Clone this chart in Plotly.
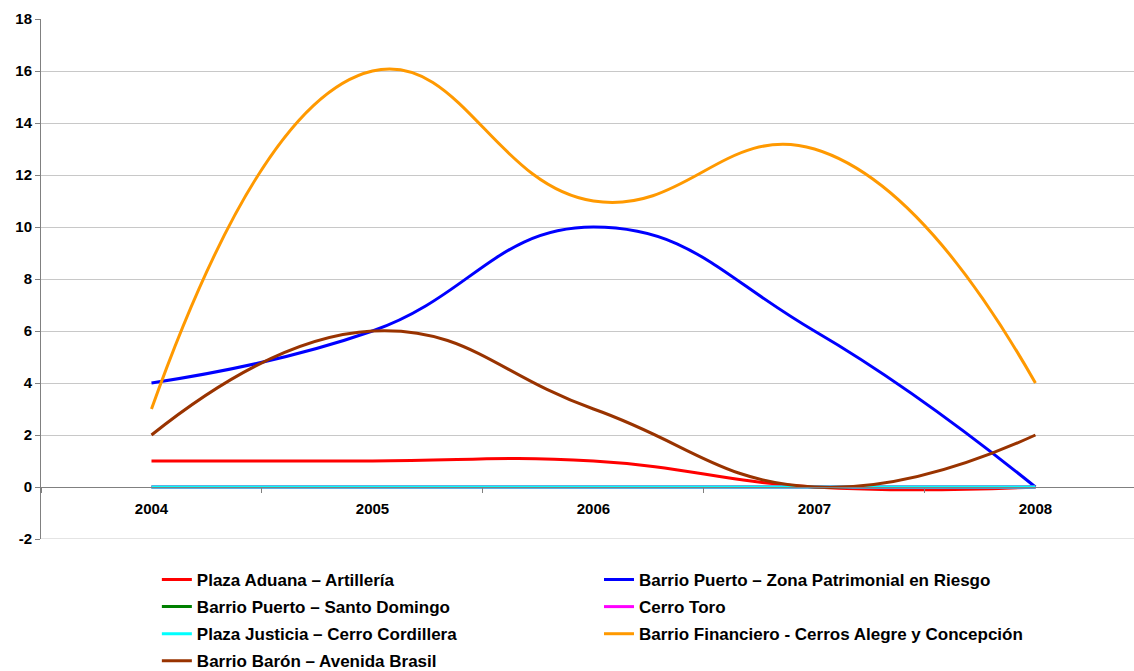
import plotly.graph_objects as go

years = ["2004", "2005", "2006", "2007", "2008"]

plaza_aduana = [1, 1, 1, 0, 0]
puerto_zona = [4, 6, 10, 6, 0]
puerto_santo_domingo = [0, 0, 0, 0, 0]
cerro_toro = [0, 0, 0, 0, 0]
plaza_justicia = [0, 0, 0, 0, 0]
financiero = [3, 16, 11, 13, 4]
baron = [2, 6, 3, 0, 2]

y_ticks = [-2, 0, 2, 4, 6, 8, 10, 12, 14, 16, 18]
y_tick_text = ["-2", "0", "2", "4", "6", "8", "10", "12", "14", "16", "18"]

series = [
    ("Plaza Aduana – Artillería", plaza_aduana, "#FF0000", "legend"),
    ("Barrio Puerto – Zona Patrimonial en Riesgo", puerto_zona, "#0000FF", "legend2"),
    ("Barrio Puerto – Santo Domingo", puerto_santo_domingo, "#008000", "legend"),
    ("Cerro Toro", cerro_toro, "#FF00FF", "legend2"),
    ("Plaza Justicia – Cerro Cordillera", plaza_justicia, "#00FFFF", "legend"),
    ("Barrio Financiero - Cerros Alegre y Concepción", financiero, "#FF9900", "legend2"),
    ("Barrio Barón – Avenida Brasil", baron, "#993300", "legend"),
]

fig = go.Figure()
for i, (name, vals, color, leg) in enumerate(series):
    fig.add_trace(go.Scatter(
        x=years, y=vals, name=name, mode="lines",
        line=dict(color=color, width=3, shape="spline", smoothing=1.3),
        legend=leg, legendgroup=f"g{i}",
    ))

font = dict(family="Liberation Sans, Arial, sans-serif", size=15, color="#000000", weight="bold")
leg_font = dict(font, size=17)
leg_common = dict(
    orientation="v", yanchor="top", yref="container", y=0.1625,
    traceorder="grouped", tracegroupgap=2,
    bgcolor="rgba(0,0,0,0)", font=leg_font, itemwidth=30,
)

fig.update_layout(
    width=1134, height=671,
    margin=dict(l=41, r=0, t=19, b=132, autoexpand=False),
    paper_bgcolor="white", plot_bgcolor="white",
    font=font,
    showlegend=True,
    xaxis=dict(
        type="category", range=[-0.5, 4.446],
        anchor="free", position=0.1,
        showline=True, linecolor="#808080", linewidth=1,
        showgrid=False, ticks="outside", tickson="boundaries",
        ticklen=5, tickcolor="#808080", ticklabelstandoff=8,
        tickfont=font,
    ),
    yaxis=dict(
        range=[-2, 18], tickvals=y_ticks, ticktext=y_tick_text,
        showline=True, linecolor="#808080", linewidth=1,
        showgrid=True, gridcolor="#C8C8C8", gridwidth=1,
        zeroline=False,
        ticks="outside", ticklen=5, tickcolor="#808080",
        tickfont=font,
    ),
    shapes=[dict(type="line", xref="paper", yref="y", x0=0, x1=1, y0=-2, y1=-2,
                 line=dict(color="#C8C8C8", width=1), layer="below")],
    legend=dict(x=0.106, **leg_common),
    legend2=dict(x=0.5105, **leg_common),
)

fig.write_html("out.html")
